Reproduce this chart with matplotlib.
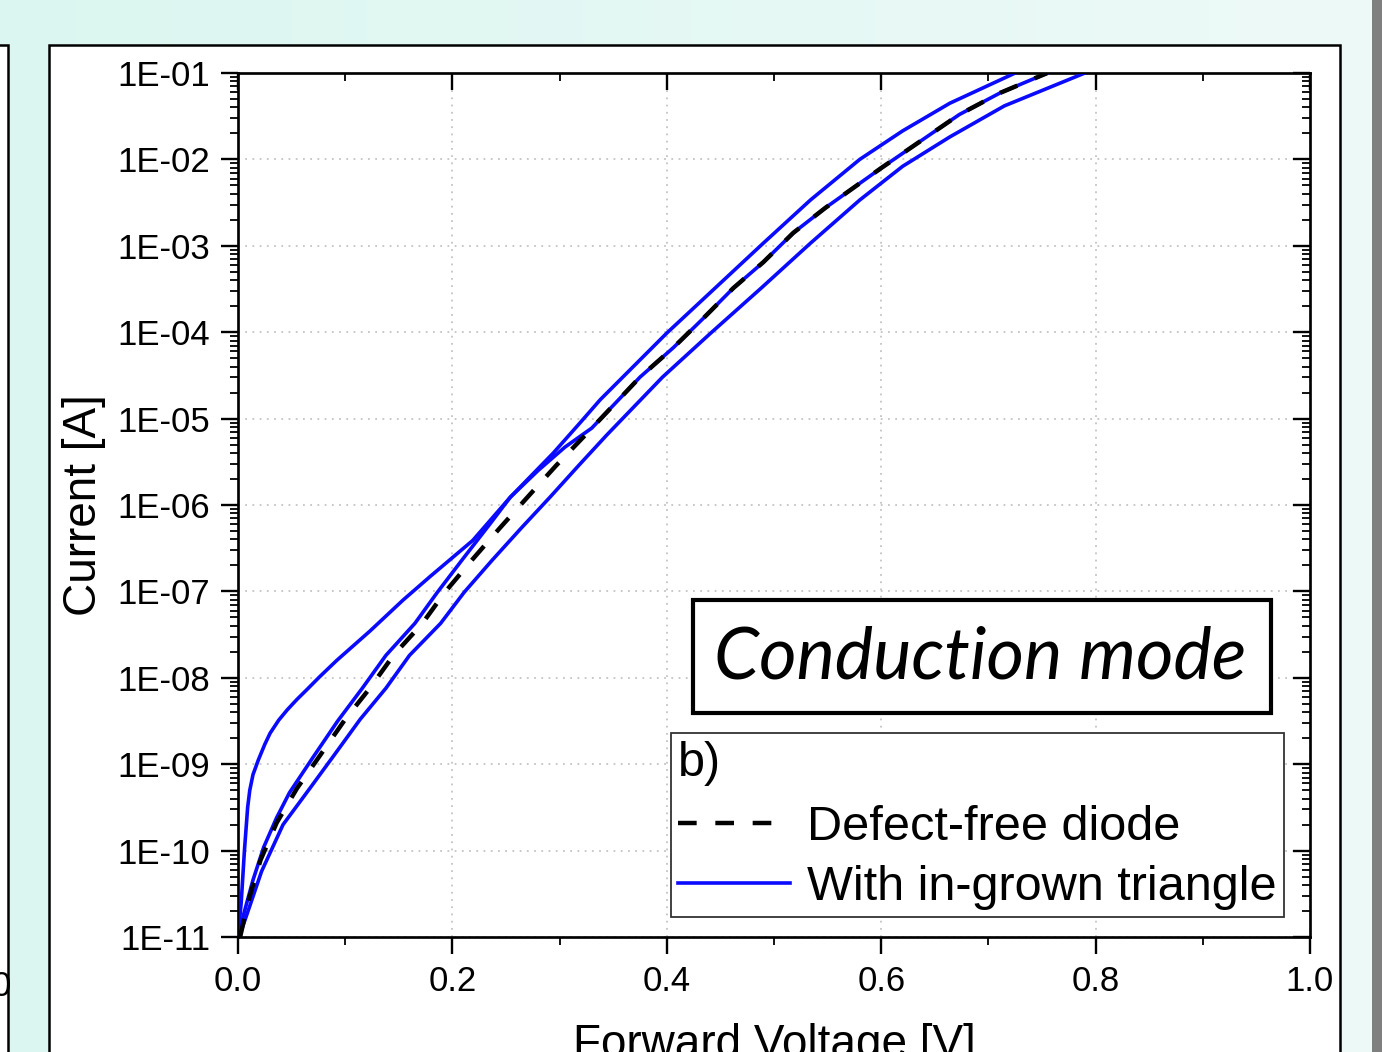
import numpy as np
import matplotlib.pyplot as plt
from matplotlib.patches import Rectangle
from matplotlib.ticker import FixedLocator, FuncFormatter, MultipleLocator, LogLocator

plt.rcParams['font.family'] = ['Liberation Sans', 'DejaVu Sans']

# defect-free diode (log10 of current)
v_defect = [0.002, 0.009, 0.021, 0.036, 0.055, 0.077, 0.100, 0.123, 0.145, 0.172, 0.193,
            0.218, 0.244, 0.270, 0.297, 0.324, 0.375, 0.406, 0.434, 0.462, 0.490, 0.518,
            0.548, 0.600, 0.640, 0.673, 0.711, 0.755]
log_defect = [-11.0, -10.61, -10.11, -9.68, -9.28, -8.89, -8.48, -8.12, -7.74, -7.37, -7.01,
              -6.64, -6.27, -5.91, -5.54, -5.19, -4.52, -4.18, -3.84, -3.49, -3.19, -2.85,
              -2.56, -2.10, -1.76, -1.48, -1.23, -1.0]

# with in-grown triangle: three measured curves
v_tri1 = [0.0, 0.003, 0.006, 0.009, 0.011, 0.014, 0.019, 0.025, 0.030, 0.038, 0.046, 0.055,
          0.064, 0.076, 0.092, 0.123, 0.154, 0.179, 0.219, 0.254, 0.294, 0.319, 0.338, 0.400,
          0.490, 0.534, 0.580, 0.620, 0.664, 0.725]
log_tri1 = [-11.0, -10.6, -10.0, -9.5, -9.3, -9.12, -8.95, -8.77, -8.64, -8.49, -8.37, -8.25,
            -8.14, -7.99, -7.80, -7.46, -7.10, -6.83, -6.41, -5.91, -5.40, -5.05, -4.78, -4.01,
            -2.97, -2.47, -2.0, -1.67, -1.35, -1.0]

v_tri2 = [0.0, 0.005, 0.014, 0.024, 0.036, 0.048, 0.070, 0.093, 0.116, 0.138, 0.165, 0.186,
          0.210, 0.235, 0.254, 0.280, 0.305, 0.330, 0.375, 0.406, 0.434, 0.462, 0.490,
          0.518, 0.548, 0.600, 0.640, 0.673, 0.711, 0.755]
log_tri2 = [-11.0, -10.75, -10.34, -9.96, -9.62, -9.33, -8.92, -8.50, -8.12, -7.74, -7.37,
            -7.01, -6.62, -6.22, -5.91, -5.60, -5.33, -5.11, -4.52, -4.18, -3.84, -3.49,
            -3.19, -2.85, -2.56, -2.10, -1.76, -1.48, -1.23, -1.0]

v_tri3 = [0.001, 0.008, 0.022, 0.042, 0.067, 0.090, 0.114, 0.138, 0.160, 0.189, 0.211, 0.237,
          0.264, 0.291, 0.318, 0.344, 0.396, 0.441, 0.488, 0.534, 0.580, 0.620, 0.664,
          0.715, 0.790]
log_tri3 = [-11.0, -10.75, -10.24, -9.70, -9.28, -8.89, -8.48, -8.12, -7.74, -7.37, -7.01,
            -6.64, -6.27, -5.91, -5.54, -5.19, -4.52, -4.01, -3.49, -2.97, -2.47, -2.08,
            -1.74, -1.38, -1.0]

x_ticks = [0.0, 0.2, 0.4, 0.6, 0.8, 1.0]
y_exps = list(range(-11, 0))

W, H = 1382, 1052
fig = plt.figure(figsize=(W / 100, H / 100), dpi=100)

# poster background
bg = fig.add_axes([0, 0, 1, 1], zorder=-10)
grad = np.linspace(0, 1, 256).reshape(1, -1)
c0 = np.array([219, 246, 240]) / 255
c1 = np.array([238, 250, 248]) / 255
img = c0[None, None, :] * (1 - grad[..., None]) + c1[None, None, :] * grad[..., None]
bg.imshow(img, aspect='auto', extent=[0, 1, 0, 1])
bg.set_xlim(0, 1)
bg.set_ylim(0, 1)
bg.axis('off')


def px_rect(x0, y0, x1, y1, **kw):
    bg.add_patch(Rectangle((x0 / W, 1 - y1 / H), (x1 - x0) / W, (y1 - y0) / H, **kw))


px_rect(1372, -5, 1390, 1060, facecolor='#7f7f7f', edgecolor='none')
px_rect(-20, 45, 8, 1070, facecolor='white', edgecolor='black', linewidth=1.8)
px_rect(49, 45, 1340, 1070, facecolor='white', edgecolor='black', linewidth=1.8)
# tick label of the neighbouring panel, cut by the screenshot edge
bg.text(-8 / W, 1 - 987 / H, '0', fontsize=25, va='center', ha='left')

ax = fig.add_axes([238 / W, 1 - 937 / H, 1072 / W, 864 / H])
blue = '#0a0aff'
ax.plot(v_tri1, 10 ** np.array(log_tri1), color=blue, lw=2.6, zorder=3)
ax.plot(v_tri2, 10 ** np.array(log_tri2), color=blue, lw=2.6, zorder=3)
line_tri, = ax.plot(v_tri3, 10 ** np.array(log_tri3), color=blue, lw=2.6, zorder=3)
line_def, = ax.plot(v_defect, 10 ** np.array(log_defect), color='black', lw=3.2,
                    dashes=(4.2, 4.2), zorder=4)

ax.set_yscale('log')
ax.set_xlim(0, 1.0)
ax.set_ylim(1e-11, 1e-1)
ax.set_xticks(x_ticks)
ax.xaxis.set_minor_locator(MultipleLocator(0.1))
ax.yaxis.set_major_locator(FixedLocator([10.0 ** e for e in y_exps]))
ax.yaxis.set_minor_locator(LogLocator(base=10, subs=np.arange(2, 10), numticks=50))
ax.yaxis.set_major_formatter(FuncFormatter(lambda v, p: '1E%03d' % int(round(np.log10(v)))))
ax.xaxis.set_major_formatter(FuncFormatter(lambda v, p: '%.1f' % v))
ax.tick_params(which='major', direction='out', length=12, width=1.7, labelsize=25, pad=8)
ax.tick_params(which='minor', direction='out', length=6, width=1.3)
ax.grid(True, which='major', color='#c4c4c4', linestyle=(0, (1, 3)), linewidth=1.3)
for s in ax.spines.values():
    s.set_linewidth(1.9)

# inward ticks on top and right
axr = ax.twinx()
axr.set_yscale('log')
axr.set_ylim(1e-11, 1e-1)
axr.yaxis.set_major_locator(FixedLocator([10.0 ** e for e in y_exps]))
axr.yaxis.set_minor_locator(LogLocator(base=10, subs=np.arange(2, 10), numticks=50))
axr.tick_params(which='major', direction='in', length=12, width=1.7, labelright=False)
axr.tick_params(which='minor', direction='in', length=6, width=1.3)
axt = ax.twiny()
axt.set_xlim(0, 1.0)
axt.set_xticks(x_ticks)
axt.xaxis.set_minor_locator(MultipleLocator(0.1))
axt.tick_params(which='major', direction='in', length=12, width=1.7, labeltop=False)
axt.tick_params(which='minor', direction='in', length=6, width=1.3)

ax.set_xlabel('Forward Voltage [V]', fontsize=33, labelpad=18)
ax.set_ylabel('Current [A]', fontsize=33, labelpad=8)

# "Conduction mode" box
box = Rectangle((0.4244, 0.2593), 0.5392, 0.1307, transform=ax.transAxes,
                facecolor='white', edgecolor='black', linewidth=3, zorder=6)
axt.add_patch(box)
axt.text(0.6922, 0.3230, 'Conduction mode', transform=ax.transAxes, fontsize=52,
         fontstyle='italic', family=['Lato', 'DejaVu Sans'], ha='center', va='center', zorder=7)

leg = axt.legend([line_def, line_tri], ['Defect-free diode', 'With in-grown triangle'],
                 title='b)', alignment='left', loc='lower right',
                 bbox_to_anchor=(0.9757, 0.0231), borderaxespad=0, fontsize=35,
                 title_fontsize=35, handlelength=2.3, handletextpad=0.35, borderpad=0.15,
                 labelspacing=0.3, fancybox=False, framealpha=1, edgecolor='#333333')
leg.get_frame().set_linewidth(1.3)
leg._legend_box.sep = 14

fig.savefig('out.png', dpi=100)
